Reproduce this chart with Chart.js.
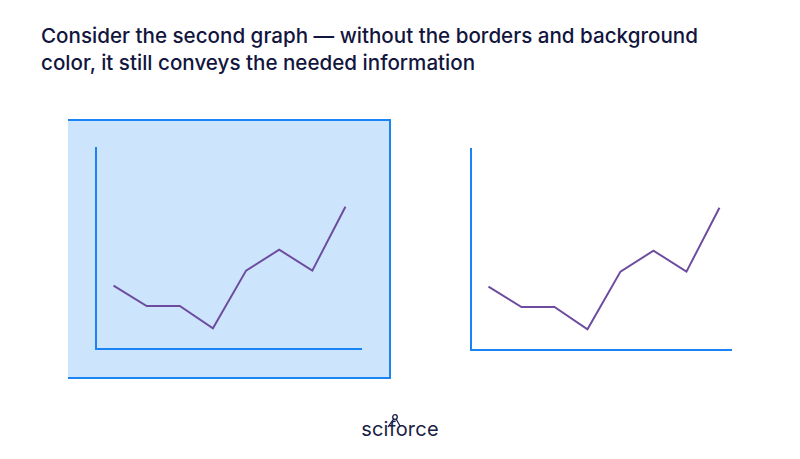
<!DOCTYPE html>
<html>
<head>
<meta charset="utf-8">
<script src="https://cdn.jsdelivr.net/npm/chart.js@4"></script>
<style>
  html, body { margin: 0; padding: 0; background: #fff; }
  body { width: 800px; height: 459px; position: relative; overflow: hidden; font-family: Inter, "Noto Sans", sans-serif; }
  .headline { position: absolute; left: 41px; top: 22px; width: 740px; color: #12153d; font-size: 20.6px; font-weight: 500; line-height: 27px; white-space: nowrap; }
  .panel { position: absolute; top: 119px; width: 321px; height: 256px; }
  #left-panel { left: 68px; background: #cce5fc; border-top: 2px solid #1a84f5; border-right: 2px solid #1a84f5; border-bottom: 2px solid #1a84f5; }
  #right-panel { left: 443px; border-top: 2px solid transparent; }
  .panel canvas { position: absolute; left: 0; top: 0; }
  .logo { position: absolute; left: 0; width: 800px; top: 417px; text-align: center; color: #1a1d45; font-size: 20px; font-weight: 400; letter-spacing: 0.2px; }
  .logo-mark { position: absolute; left: 383px; top: 412px; }
</style>
</head>
<body>
<div class="headline">Consider the second graph — without the borders and background<br>color, it still conveys the needed information</div>
<div class="panel" id="left-panel"><canvas id="chartWith"></canvas></div>
<div class="panel" id="right-panel"><canvas id="chartWithout"></canvas></div>
<div class="logo">sciforce</div>
<svg class="logo-mark" width="22" height="18" viewBox="0 0 22 18">
  <polyline points="5,15 12,5 17,14" fill="none" stroke="#1a1d45" stroke-width="1.3"/>
  <circle cx="12" cy="5" r="2.3" fill="#fff" stroke="#1a1d45" stroke-width="1.3"/>
</svg>

<script>
// periodos del gráfico (mismo dato en ambos paneles)
const periods = ['1', '2', '3', '4', '5', '6', '7', '8'];
const values = [31.5, 21.4, 21.4, 10.3, 39.0, 49.4, 39.0, 70.8];

const axisBlue = '#1a84f5';
const linePurple = '#6d4c9f';

function buildChart(canvasId, xMin, xMax, padding) {
    const canvas = document.getElementById(canvasId);
    canvas.width = 321;
    canvas.height = 256;
    canvas.style.width = '321px';
    canvas.style.height = '256px';

    const points = periods.map((p, i) => ({ x: i, y: values[i] }));

    return new Chart(canvas.getContext('2d'), {
        type: 'line',
        data: {
            datasets: [{
                label: 'serie',
                data: points,
                borderColor: linePurple,
                borderWidth: 2,
                pointRadius: 0,
                tension: 0,
                fill: false
            }]
        },
        options: {
            responsive: false,
            animation: false,
            layout: { padding: padding },
            plugins: { legend: { display: false }, tooltip: { enabled: false } },
            scales: {
                x: {
                    type: 'linear',
                    min: xMin,
                    max: xMax,
                    grid: { display: false, drawTicks: false, tickLength: 0 },
                    ticks: { display: false },
                    border: { display: true, color: axisBlue, width: 2 }
                },
                y: {
                    min: 0,
                    max: 100,
                    grid: { display: false, drawTicks: false, tickLength: 0 },
                    ticks: { display: false },
                    border: { display: true, color: axisBlue, width: 2 }
                }
            }
        }
    });
}

// panel con fondo y bordes
buildChart('chartWith', -0.53, 7.47, { left: 28, right: 28, top: 27, bottom: 28 });
// panel limpio
buildChart('chartWithout', -0.53, 7.35, { left: 28, right: 33, top: 28, bottom: 27 });
</script>
</body>
</html>
